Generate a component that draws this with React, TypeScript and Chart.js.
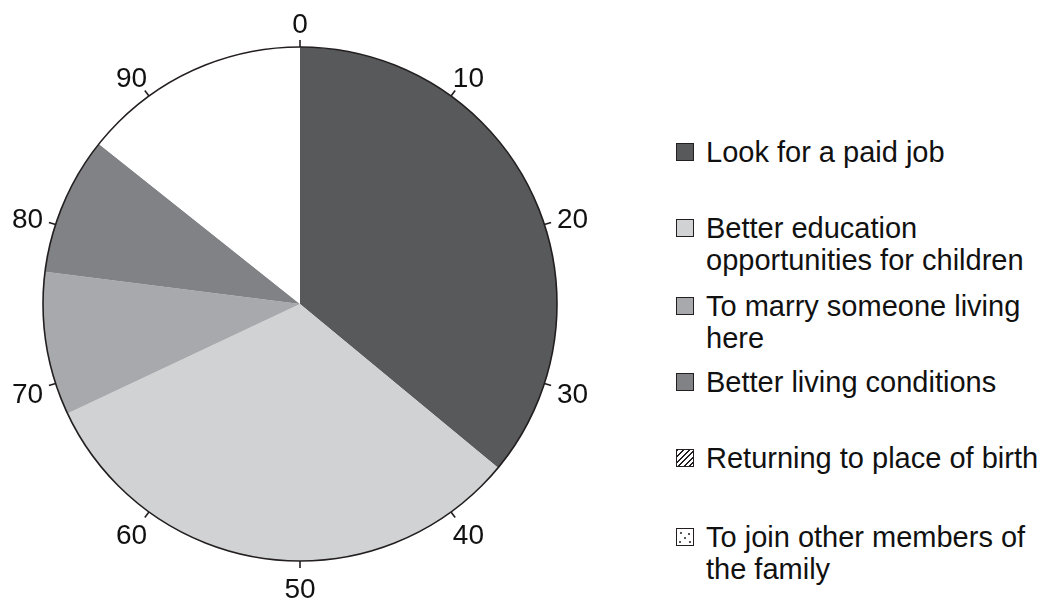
import React, { useEffect, useRef } from "react";
import { Chart, registerables } from "chart.js";

Chart.register(...registerables);

const categories = [
  "Look for a paid job",
  "Better education opportunities for children",
  "To marry someone living here",
  "Better living conditions",
  "Returning to place of birth",
  "To join other members of the family",
];
const legendLines = [
  ["Look for a paid job"],
  ["Better education", "opportunities for children"],
  ["To marry someone living", "here"],
  ["Better living conditions"],
  ["Returning to place of birth"],
  ["To join other members of", "the family"],
];
const values = [36, 32, 9, 8.7, 0, 0];
const unfilled = 14.3;
const sliceColors = ["#58595b", "#d1d2d4", "#a7a9ac", "#808285", "#ffffff", "#ffffff"];
const tickValues = [0, 10, 20, 30, 40, 50, 60, 70, 80, 90];
const tickLabels = ["0", "10", "20", "30", "40", "50", "60", "70", "80", "90"];
const scaleMax = 100;
const legendTops = [143, 219, 297, 373, 449, 528];
const legendPatterns = ["solid", "solid", "solid", "solid", "hatch", "dots"];

const FONT = '"Liberation Sans", Arial, Helvetica, sans-serif';

const dialPlugin = {
  id: "dial",
  afterDatasetsDraw(chart: any) {
    const arc = chart.getDatasetMeta(0).data[0];
    if (!arc) return;
    const { x, y, outerRadius: r } = arc;
    const ctx = chart.ctx;
    ctx.save();
    ctx.strokeStyle = "#231f20";
    ctx.lineWidth = 1.6;
    ctx.beginPath();
    ctx.arc(x, y, r, 0, Math.PI * 2);
    ctx.stroke();
    ctx.font = `28px ${FONT}`;
    ctx.fillStyle = "#111";
    ctx.textAlign = "center";
    ctx.textBaseline = "middle";
    const h = 20;
    tickValues.forEach((v, i) => {
      const a = (v / scaleMax) * Math.PI * 2;
      const s = Math.sin(a);
      const c = Math.cos(a);
      ctx.beginPath();
      ctx.moveTo(x + s * r, y - c * r);
      ctx.lineTo(x + s * (r + 7), y - c * (r + 7));
      ctx.stroke();
      const w = ctx.measureText(tickLabels[i]).width;
      const d = r + 12;
      const cx = x + s * d + s * (w / 2 + 2);
      const cy = y - c * d - c * (h / 2 + 3);
      ctx.fillText(tickLabels[i], cx, cy + 3.5 - c * 0.5);
    });
    ctx.restore();
  },
};

function swatchStyle(i: number): React.CSSProperties {
  const base: React.CSSProperties = {
    position: "absolute",
    left: 676,
    top: legendTops[i],
    width: 16,
    height: 16,
    border: "1px solid #231f20",
    background: sliceColors[i],
  };
  if (legendPatterns[i] === "hatch") {
    base.background =
      "repeating-linear-gradient(135deg, #231f20 0px, #231f20 1.4px, #ffffff 1.4px, #ffffff 3.9px)";
  } else if (legendPatterns[i] === "dots") {
    base.background = "#ffffff";
  }
  return base;
}

const dotSpots = [
  [3, 3],
  [11, 4],
  [7, 8],
  [2, 12],
  [12, 12],
];

export default function App() {
  const ref = useRef<HTMLCanvasElement | null>(null);
  useEffect(() => {
    if (!ref.current) return;
    const chart = new Chart(ref.current, {
      type: "pie",
      data: {
        labels: [...categories, ""],
        datasets: [
          {
            data: [...values, unfilled],
            backgroundColor: [...sliceColors, "#ffffff"],
            borderWidth: 0,
          },
        ],
      },
      options: {
        animation: false,
        responsive: false,
        maintainAspectRatio: false,
        layout: { padding: { top: 47, bottom: 43, left: 43, right: 43 } },
        plugins: { legend: { display: false }, tooltip: { enabled: false } },
      },
      plugins: [dialPlugin],
    });
    return () => chart.destroy();
  }, []);

  return (
    <div
      style={{
        position: "fixed",
        left: 0,
        top: 0,
        width: 1047,
        height: 604,
        background: "#fff",
        fontFamily: FONT,
      }}
    >
      <canvas ref={ref} width={600} height={604} style={{ position: "absolute", left: 0, top: 0, width: 600, height: 604 }} />
      {categories.map((c, i) => (
        <React.Fragment key={c}>
          <div style={swatchStyle(i)}>
            {legendPatterns[i] === "dots" &&
              dotSpots.map(([dx, dy], k) => (
                <div
                  key={k}
                  style={{
                    position: "absolute",
                    left: dx,
                    top: dy,
                    width: 2,
                    height: 2,
                    borderRadius: 1,
                    background: "#231f20",
                  }}
                />
              ))}
          </div>
          <div
            style={{
              position: "absolute",
              left: 706,
              top: legendTops[i] - 7.5,
              fontSize: 29,
              lineHeight: "32px",
              color: "#111",
              whiteSpace: "nowrap",
            }}
          >
            {legendLines[i].map((l, k) => (
              <div key={k}>{l}</div>
            ))}
          </div>
        </React.Fragment>
      ))}
    </div>
  );
}
